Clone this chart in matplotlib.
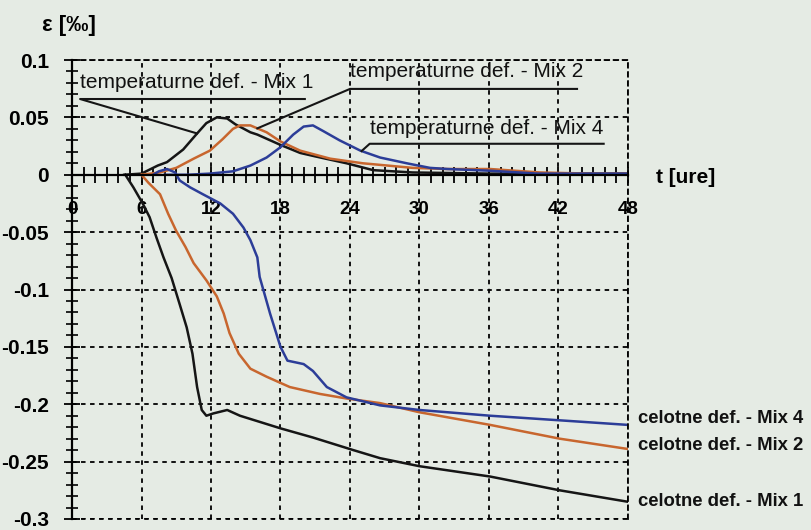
"""
Temperaturne in celotne deformacije betona - Mix 1, 2, 4
"""

import numpy as np
import matplotlib
matplotlib.use("Agg")
import matplotlib.pyplot as plt
from matplotlib.ticker import MultipleLocator

plt.rcParams["font.family"] = ["Liberation Sans", "DejaVu Sans"]

# ── Data (hours, strain in permille) ───────────────────────────────────────
t_temp_mix1 = [4.5, 6.0, 7.4, 8.2, 9.6, 10.8, 11.6, 12.5, 13.4, 14.1, 15.4,
               16.0, 18.0, 19.7, 21.0, 23.7, 26.0, 29.4, 36.0, 48.0]
e_temp_mix1 = [0.0, 0.001, 0.008, 0.011, 0.022, 0.036, 0.045, 0.050, 0.049,
               0.044, 0.037, 0.035, 0.026, 0.019, 0.016, 0.010, 0.004, 0.002,
               0.001, 0.001]

t_temp_mix2 = [6.0, 7.6, 9.0, 10.5, 11.9, 13.0, 13.9, 14.5, 15.4, 16.8, 18.0,
               19.7, 22.3, 25.1, 29.4, 32.4, 36.1, 40.4, 44.7, 48.0]
e_temp_mix2 = [0.0, 0.002, 0.006, 0.014, 0.021, 0.031, 0.040, 0.043, 0.043,
               0.037, 0.029, 0.021, 0.014, 0.010, 0.006, 0.005, 0.005, 0.002,
               0.001, 0.001]

t_temp_mix4 = [8.0, 10.0, 11.9, 13.9, 15.4, 16.8, 18.0, 19.1, 20.0, 20.8,
               21.7, 23.1, 24.9, 26.6, 28.9, 30.9, 32.4, 36.1, 40.2, 48.0]
e_temp_mix4 = [0.0, 0.0, 0.001, 0.003, 0.008, 0.015, 0.024, 0.035, 0.042,
               0.043, 0.038, 0.030, 0.021, 0.015, 0.010, 0.006, 0.005, 0.0035,
               0.001, 0.001]

t_tot_mix1 = [4.6, 5.3, 6.1, 6.7, 7.3, 7.9, 8.6, 9.3, 9.9, 10.4, 10.8, 11.2,
              11.6, 12.2, 13.4, 14.5, 18.0, 20.8, 24.3, 26.6, 30.0, 36.1,
              42.1, 48.0]
e_tot_mix1 = [0.0, -0.011, -0.025, -0.037, -0.055, -0.072, -0.090, -0.113,
              -0.133, -0.156, -0.185, -0.205, -0.210, -0.208, -0.205, -0.210,
              -0.221, -0.229, -0.240, -0.247, -0.254, -0.263, -0.275, -0.285]

t_tot_mix2 = [6.0, 6.6, 7.6, 8.3, 9.0, 9.8, 10.5, 11.6, 12.5, 13.1, 13.6,
              14.4, 15.4, 16.8, 18.8, 21.4, 23.7, 26.6, 30.0, 36.1, 42.1, 48.0]
e_tot_mix2 = [0.0, -0.007, -0.017, -0.034, -0.049, -0.063, -0.077, -0.092,
              -0.106, -0.121, -0.138, -0.156, -0.169, -0.176, -0.185, -0.191,
              -0.195, -0.199, -0.207, -0.218, -0.230, -0.239]

t_tot_mix4 = [7.0, 7.5, 8.2, 8.9, 9.3, 10.2, 11.3, 12.8, 13.9, 14.8, 15.4,
              16.0, 16.2, 17.1, 18.0, 18.6, 20.0, 20.8, 22.0, 23.7, 26.6,
              30.0, 36.1, 42.1, 48.0]
e_tot_mix4 = [0.0, 0.003, 0.005, 0.002, -0.005, -0.011, -0.017, -0.025,
              -0.034, -0.046, -0.057, -0.072, -0.089, -0.121, -0.150, -0.162,
              -0.165, -0.171, -0.185, -0.194, -0.201, -0.205, -0.210, -0.214,
              -0.218]

x_ticks = [0, 6, 12, 18, 24, 30, 36, 42, 48]
y_ticks = [0.1, 0.05, 0, -0.05, -0.1, -0.15, -0.2, -0.25, -0.3]
y_labels = ["0.1", "0.05", "0", "-0.05", "-0.1", "-0.15", "-0.2", "-0.25", "-0.3"]

BLACK = "#151515"
ORANGE = "#c8662e"
BLUE = "#2c3d98"
BG = "#e5ebe4"

# ── Figure ─────────────────────────────────────────────────────────────────
fig = plt.figure(figsize=(8.12, 5.30), dpi=100, facecolor=BG)
ax = fig.add_axes([72 / 812, 11 / 530, 556 / 812, 459 / 530])
ax.set_facecolor(BG)

ax.set_xlim(0, 48)
ax.set_ylim(-0.3, 0.1)

# grid + borders
dash = (0, (2.5, 2.5))
ax.grid(True, which="major", color="black", linestyle=dash, linewidth=1.3)
for side in ("top", "right"):
    ax.spines[side].set_linestyle(dash)
    ax.spines[side].set_linewidth(1.3)
ax.spines["left"].set_linewidth(1.6)
ax.spines["bottom"].set_position(("data", 0))
ax.spines["bottom"].set_linewidth(1.6)
ax.axhline(-0.3, color="black", linestyle=dash, linewidth=1.3, clip_on=False)

ax.set_xticks(x_ticks)
ax.set_xticklabels([str(v) for v in x_ticks])
ax.xaxis.set_minor_locator(MultipleLocator(1))
ax.set_yticks(y_ticks)
ax.set_yticklabels(y_labels)
ax.yaxis.set_minor_locator(MultipleLocator(0.01))
ax.tick_params(axis="x", which="both", direction="inout", length=12,
               width=1.3, pad=13, labelsize=13.5)
ax.tick_params(axis="y", which="major", direction="inout", length=11,
               width=1.3, pad=11, labelsize=15)
ax.tick_params(axis="y", which="minor", direction="inout", length=8,
               width=1.2)
for lab in ax.get_xticklabels() + ax.get_yticklabels():
    lab.set_fontweight("bold")

# curves
lw = 1.8
ax.plot(t_temp_mix1, e_temp_mix1, color=BLACK, lw=lw)
ax.plot(t_temp_mix2, e_temp_mix2, color=ORANGE, lw=lw)
ax.plot(t_temp_mix4, e_temp_mix4, color=BLUE, lw=lw)
ax.plot(t_tot_mix1, e_tot_mix1, color=BLACK, lw=lw)
ax.plot(t_tot_mix2, e_tot_mix2, color=ORANGE, lw=lw)
ax.plot(t_tot_mix4, e_tot_mix4, color=BLUE, lw=lw)

# temperature labels with underline and leader to the curve
temp_labels = [
    ("temperaturne def. - Mix 1", 0.7, 20.1, 0.080, 0.066, 10.8,
     t_temp_mix1, e_temp_mix1),
    ("temperaturne def. - Mix 2", 24.0, 43.6, 0.090, 0.0748, 16.0,
     t_temp_mix2, e_temp_mix2),
    ("temperaturne def. - Mix 4", 25.7, 45.9, 0.040, 0.027, 25.0,
     t_temp_mix4, e_temp_mix4),
]
for text, x0, x1, ytxt, yline, xtip, tt, ee in temp_labels:
    ytip = np.interp(xtip, tt, ee)
    ax.plot([xtip, x0, x1], [ytip, yline, yline], color=BLACK, lw=1.5,
            clip_on=False)
    ax.text(x0, ytxt, text, fontsize=15, ha="left", va="center",
            color="#111111")

# total deformation labels at right
tot_labels = [
    ("celotne def. - Mix 4", -0.212),
    ("celotne def. - Mix 2", -0.236),
    ("celotne def. - Mix 1", -0.285),
]
for text, yy in tot_labels:
    ax.text(48.9, yy, text, fontsize=13.3, fontweight="bold", ha="left",
            va="center", color="#111111", clip_on=False)

fig.text(42 / 812, 1 - 25 / 530, "ε [‰]", fontsize=16, fontweight="bold",
         ha="left", va="center")
fig.text(656 / 812, 1 - 178 / 530, "t [ure]", fontsize=15, fontweight="bold",
         ha="left", va="center")

fig.savefig("out.png", dpi=100, facecolor=BG)
